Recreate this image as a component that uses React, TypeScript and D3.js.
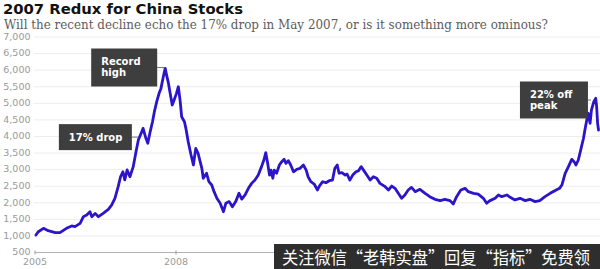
import React from 'react';
import * as d3 from 'd3';

const titleText = '2007 Redux for China Stocks';
const subtitleText = 'Will the recent decline echo the 17% drop in May 2007, or is it something more ominous?';
const watermarkText = '关注微信“老韩实盘”回复“指标”免费领';

const years = [
  2005.02, 2005.07, 2005.18, 2005.28, 2005.43, 2005.53, 2005.67, 2005.78, 2005.85, 2005.96,
  2006.03, 2006.10, 2006.17, 2006.21, 2006.28, 2006.35, 2006.45, 2006.56, 2006.63, 2006.70,
  2006.77, 2006.82, 2006.87, 2006.91, 2006.96, 2007.02, 2007.09, 2007.15, 2007.20, 2007.26,
  2007.30, 2007.36, 2007.40, 2007.45, 2007.50, 2007.54, 2007.59, 2007.64, 2007.68, 2007.73,
  2007.77, 2007.80, 2007.84, 2007.87, 2007.92, 2007.96, 2008.01, 2008.05, 2008.09, 2008.12,
  2008.18, 2008.21, 2008.26, 2008.32, 2008.37, 2008.42, 2008.47, 2008.55, 2008.58, 2008.65,
  2008.70, 2008.76, 2008.81, 2008.87, 2008.94, 2009.01, 2009.06, 2009.13, 2009.20, 2009.27,
  2009.34, 2009.40, 2009.47, 2009.54, 2009.61, 2009.68, 2009.75, 2009.82, 2009.87, 2009.91,
  2009.95, 2009.99, 2010.02, 2010.06, 2010.09, 2010.14, 2010.20, 2010.25, 2010.30, 2010.34,
  2010.39, 2010.44, 2010.50, 2010.57, 2010.64, 2010.71, 2010.77, 2010.81, 2010.87, 2010.94,
  2011.01, 2011.05, 2011.12, 2011.19, 2011.26, 2011.33, 2011.38, 2011.43, 2011.47, 2011.53,
  2011.60, 2011.64, 2011.70, 2011.76, 2011.83, 2011.88, 2011.94, 2011.99, 2012.06, 2012.13,
  2012.20, 2012.27, 2012.34, 2012.45, 2012.52, 2012.59, 2012.66, 2012.73, 2012.80, 2012.87,
  2012.94, 2013.01, 2013.09, 2013.19, 2013.30, 2013.40, 2013.51, 2013.62, 2013.72, 2013.83,
  2013.90, 2013.97, 2014.06, 2014.15, 2014.22, 2014.33, 2014.43, 2014.54, 2014.61, 2014.68,
  2014.79, 2014.86, 2014.93, 2015.04, 2015.11, 2015.21, 2015.32, 2015.43, 2015.53, 2015.64,
  2015.74, 2015.85, 2015.96, 2016.06, 2016.16, 2016.21, 2016.28, 2016.35, 2016.42, 2016.47,
  2016.51, 2016.56, 2016.61, 2016.67, 2016.70, 2016.74, 2016.77, 2016.81, 2016.84, 2016.89,
  2016.93, 2016.95, 2016.97, 2016.99,
];

const values = [
  1028, 1127, 1230, 1157, 1097, 1097, 1230, 1300, 1280, 1380,
  1580, 1630, 1730, 1580, 1680, 1580, 1680, 1800, 1930, 2135,
  2485, 2785, 2935, 2690, 2990, 2785, 3090, 3550, 3900, 4100,
  4245, 3945, 3795, 4140, 4445, 4745, 5050, 5300, 5450, 5800,
  6055, 5850, 5600, 5350, 4950, 5100, 5300, 5500, 5050, 4595,
  4445, 4245, 3840, 3440, 3140, 3640, 3490, 3040, 2740, 2890,
  2635, 2535, 2335, 2135, 1985, 1730, 1985, 2035, 1880, 2035,
  2285, 2110, 2235, 2435, 2585, 2685, 2835, 3090, 3290, 3510,
  3190, 2835, 2985, 2740, 2985, 2890, 3140, 3240, 3310, 3190,
  3270, 3140, 2935, 3010, 3040, 3140, 2985, 2785, 2635, 2565,
  2385, 2505, 2635, 2605, 2665, 2685, 3040, 3140, 2890, 2910,
  2835, 2865, 2685, 2835, 2935, 2960, 3090, 2985, 2835, 2685,
  2785, 2740, 2585, 2485, 2385, 2505, 2435, 2285, 2135, 2235,
  2385, 2465, 2335, 2405, 2285, 2185, 2105, 2065, 2105, 2065,
  1965, 2185, 2385, 2435, 2335, 2285, 2260, 2135, 1985, 2065,
  2135, 2235, 2185, 2235, 2165, 2085, 2135, 2065, 2105, 2035,
  2065, 2185, 2285, 2365, 2435, 2535, 2890, 3090, 3310, 3240,
  3140, 3290, 3590, 3945, 4195, 4495, 4700, 4395, 4800, 5050,
  5150, 4900, 4395, 4195,
];

const yTickValues = [500, 1000, 1500, 2000, 2500, 3000, 3500, 4000, 4500, 5000, 5500, 6000, 6500, 7000];
const xTickValues = [2005, 2008, 2011, 2014];

const annotationLabels = [['Record', 'high'], ['17% drop'], ['22% off', 'peak']];
const annotationYears = [2007.77, 2007.21, 2016.85];
const annotationValues = [6080, 3980, 5100];

export default function App() {
  const W = 600;
  const H = 269;
  const x = d3.scaleLinear().domain([2005, 2017]).range([35, 599]);
  const y = d3.scaleLinear().domain([500, 7000]).range([252.5, 37]);
  const fmt = d3.format(',');
  const wmLeft = 274;

  const line = d3
    .line<number>()
    .x((_, i) => x(years[i]))
    .y((d) => y(d));

  const boxSizes = [
    { w: 66, h: 38, gap: 8 },
    { w: 73, h: 26, gap: 7 },
    { w: 68, h: 37, gap: 4 },
  ];

  return (
    <svg
      width={W}
      height={H}
      viewBox={`0 0 ${W} ${H}`}
      style={{ position: 'fixed', left: 0, top: 0, background: '#fff', display: 'block' }}
    >
      <rect x={0} y={0} width={W} height={H} fill="#fff" />
      <text
        x={3}
        y={14}
        fontFamily="DejaVu Sans"
        fontWeight="bold"
        fontSize={14.8}
        fill="#111"
        textLength={240}
        lengthAdjust="spacingAndGlyphs"
      >
        {titleText}
      </text>
      <text
        x={4}
        y={28.5}
        fontFamily="DejaVu Serif"
        fontSize={13}
        fill="#5c5c5c"
        textLength={544}
        lengthAdjust="spacingAndGlyphs"
      >
        {subtitleText}
      </text>

      {yTickValues.map((v) =>
        v === 500 ? null : (
          <line key={'g' + v} x1={34} x2={W} y1={y(v)} y2={y(v)} stroke="#ededed" strokeWidth={1} />
        )
      )}
      {yTickValues.map((v) => (
        <text
          key={'yl' + v}
          x={30.5}
          y={y(v)}
          dy="0.3em"
          textAnchor="end"
          fontFamily="DejaVu Sans"
          fontSize={9.5}
          fill="#9a9a9a"
        >
          {fmt(v)}
        </text>
      ))}

      <line x1={35} x2={W} y1={y(500)} y2={y(500)} stroke="#b0b0b0" strokeWidth={1.2} />
      {xTickValues.map((t) => (
        <g key={'xt' + t}>
          <line x1={x(t)} x2={x(t)} y1={y(500) - 2} y2={y(500) + 2} stroke="#999" strokeWidth={1} />
          {x(t) < wmLeft ? (
            <text
              x={x(t)}
              y={265}
              textAnchor="middle"
              fontFamily="DejaVu Sans"
              fontSize={9.5}
              fill="#9a9a9a"
            >
              {t}
            </text>
          ) : null}
        </g>
      ))}

      <path
        d={line(values) || ''}
        fill="none"
        stroke="#2b14c9"
        strokeWidth={2.8}
        strokeLinejoin="round"
        strokeLinecap="round"
      />

      {annotationLabels.map((lines, i) => {
        const ax = x(annotationYears[i]);
        const ay = y(annotationValues[i]);
        const b = boxSizes[i];
        const bx = ax - b.gap - b.w;
        const by = ay - b.h / 2;
        return (
          <g key={'a' + i}>
            <line x1={bx + b.w} x2={ax - 1} y1={ay} y2={ay} stroke="#777" strokeWidth={1} />
            <rect x={bx} y={by} width={b.w} height={b.h} fill="#3e3e3e" />
            {lines.map((t, j) => (
              <text
                key={j}
                x={bx + 10}
                y={by + 16.5 + j * 11}
                fontFamily="DejaVu Sans"
                fontWeight="bold"
                fontSize={10}
                fill="#fff"
              >
                {t}
              </text>
            ))}
          </g>
        );
      })}

      <rect x={wmLeft} y={244} width={W - wmLeft} height={H - 244} fill="#2e2e2e" />
      <text
        x={282}
        y={263.5}
        fontFamily="Noto Sans CJK SC"
        fontSize={17.5}
        fill="#fff"
        textLength={308}
        lengthAdjust="spacingAndGlyphs"
      >
        {watermarkText}
      </text>
    </svg>
  );
}
